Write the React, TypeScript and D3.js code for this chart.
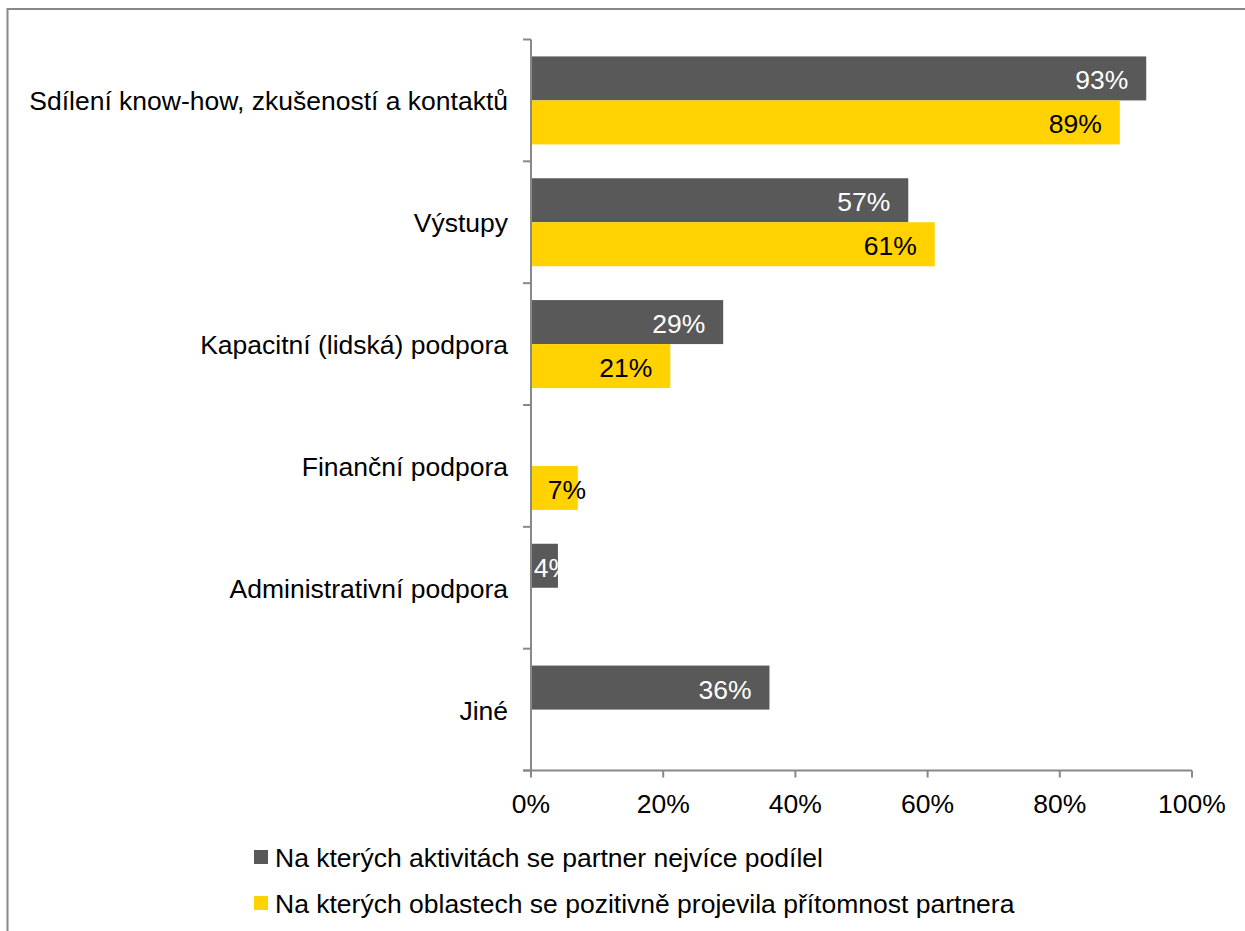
import React from "react";
import * as d3 from "d3";

const categories = [
  "Sdílení know-how, zkušeností a kontaktů",
  "Výstupy",
  "Kapacitní (lidská) podpora",
  "Finanční podpora",
  "Administrativní podpora",
  "Jiné",
];
const seriesNames = [
  "Na kterých aktivitách se partner nejvíce podílel",
  "Na kterých oblastech se pozitivně projevila přítomnost partnera",
];
const seriesActivities = [93, 57, 29, 0, 4, 36];
const seriesAreas = [89, 61, 21, 7, 0, 0];
const xTicks = [0, 20, 40, 60, 80, 100];
const colors = ["#595959", "#FFD200"];
const labelColors = ["#ffffff", "#000000"];

const W = 1245;
const H = 931;
const FONT = "'Liberation Sans', Arial, sans-serif";
const FS = 26.5;

export default function App() {
  const x0 = 531;
  const x1 = 1192;
  const yTop = 39.5;
  const yBot = 770.5;
  const x = d3.scaleLinear().domain([0, 100]).range([x0, x1]);
  const y = d3.scaleBand().domain(categories).range([yTop, yBot]).paddingInner(0).paddingOuter(0);
  const bandH = y.bandwidth();
  const barH = 44;
  const pad = (bandH - 2 * barH) / 2;
  const series = [seriesActivities, seriesAreas];

  const bars: React.ReactNode[] = [];
  categories.forEach((c, ci) => {
    series.forEach((s, si) => {
      const v = s[ci];
      if (!v) return;
      const by = (y(c) as number) + pad + si * barH;
      const bx = x(0) + 0.5;
      const bw = x(v) - x(0);
      const approxW = String(v).length * FS * 0.556 + FS * 0.889;
      let tx = bx + bw - 18 - approxW;
      if (tx < bx) tx = bx + 2 + (bw - 26) * 0.7;
      bars.push(
        <g key={`${ci}-${si}`}>
          <rect x={bx} y={by} width={bw} height={barH} fill={colors[si]} />
          <text
            x={tx}
            y={by + barH / 2 + 2}
            dominantBaseline="central"
            fill={labelColors[si]}
            fontSize={FS}
            fontFamily={FONT}
          >
            {v}%
          </text>
        </g>
      );
    });
  });

  const boundaries = d3.range(categories.length + 1).map((i) => yTop + i * bandH);

  return (
    <svg
      width={W}
      height={H}
      style={{ position: "absolute", left: 0, top: 0, background: "#fff" }}
    >
      <rect x={7.5} y={9} width={W + 20} height={H + 20} fill="#fff" stroke="#888" strokeWidth={2} />
      {bars}
      <line x1={x0} x2={x0} y1={yTop} y2={yBot} stroke="#888" strokeWidth={2} />
      {boundaries.map((b, i) => (
        <line key={i} x1={x0 - 8} x2={x0} y1={b} y2={b} stroke="#888" strokeWidth={2} />
      ))}
      <line x1={x0 - 8} x2={x1} y1={yBot} y2={yBot} stroke="#888" strokeWidth={2} />
      {xTicks.map((t) => (
        <g key={t}>
          <line x1={x(t)} x2={x(t)} y1={yBot} y2={yBot + 7} stroke="#888" strokeWidth={2} />
          <text
            x={x(t)}
            y={804}
            textAnchor="middle"
            dominantBaseline="central"
            fontSize={FS}
            fontFamily={FONT}
            fill="#000"
          >
            {t}%
          </text>
        </g>
      ))}
      {categories.map((c) => (
        <text
          key={c}
          x={508}
          y={(y(c) as number) + bandH / 2 + 1}
          textAnchor="end"
          dominantBaseline="central"
          fontSize={FS}
          fontFamily={FONT}
          fill="#000"
        >
          {c}
        </text>
      ))}
      {seriesNames.map((n, i) => (
        <g key={n} transform={`translate(254, ${857 + i * 46})`}>
          <rect x={0} y={-7} width={14} height={14} fill={colors[i]} />
          <text x={21} y={1} dominantBaseline="central" fontSize={FS} fontFamily={FONT} fill="#000">
            {n}
          </text>
        </g>
      ))}
    </svg>
  );
}
